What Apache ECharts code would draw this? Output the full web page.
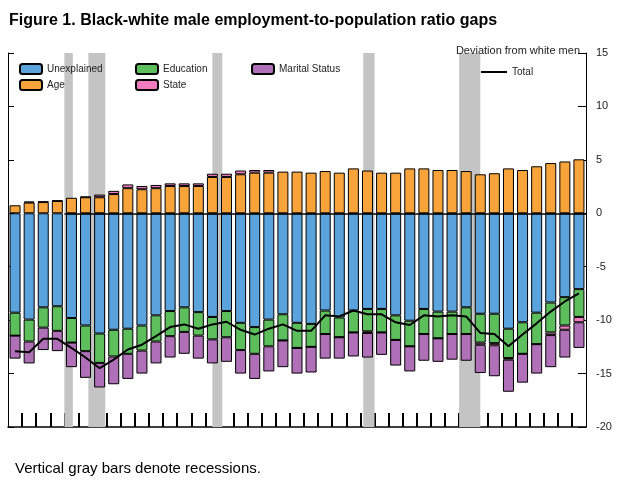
<!DOCTYPE html>
<html><head><meta charset="utf-8">
<script src="https://cdn.jsdelivr.net/npm/echarts@6/dist/echarts.min.js"></script>
<style>body{margin:0;background:#fff}#chart{width:619px;height:481px}</style>
</head><body><div id="chart"></div>
<script>
const years = [];
for (let y = 1976; y <= 2016; y++) years.push(y);
const unexplained = [-9.3,-9.95,-8.8,-8.7,-9.8,-10.5,-11.25,-10.9,-10.8,-10.5,-9.55,-9.15,-8.8,-9.25,-9.7,-9.15,-10.25,-10.65,-9.95,-9.45,-10.25,-10.35,-9.1,-9.75,-9.1,-8.95,-8.95,-9.55,-10.05,-8.95,-9.2,-9.2,-8.8,-9.4,-9.4,-10.8,-10.2,-9.3,-8.35,-7.85,-7.1];
const age = [0.75,1.0,1.05,1.15,1.45,1.5,1.5,1.8,2.35,2.25,2.35,2.55,2.55,2.55,3.4,3.4,3.65,3.8,3.8,3.9,3.9,3.8,3.95,3.8,4.2,4.0,3.8,3.8,4.2,4.2,4.05,4.05,3.95,3.65,3.75,4.2,4.05,4.4,4.7,4.85,5.05];
const education = [-2.15,-2.05,-1.9,-2.3,-2.3,-2.4,-2.75,-2.5,-2.35,-2.35,-2.45,-2.35,-2.3,-2.2,-2.1,-2.45,-2.55,-2.5,-2.5,-2.45,-2.35,-2.15,-2.2,-1.85,-2.05,-2.1,-2.2,-2.3,-2.4,-2.35,-2.5,-2.1,-2.5,-2.7,-2.75,-2.75,-2.95,-2.95,-2.8,-2.65,-2.6];
const state = [0,0.1,0.05,0.05,0,0.05,0.25,0.3,0.35,0.3,0.3,0.25,0.25,0.25,0.3,0.3,0.35,0.25,0.25,0,0,0,0,0,0,-0.15,0,0,0,0,0,0,0,-0.2,-0.2,-0.15,0,0,-0.25,-0.4,-0.5];
const marital = [-2.15,-2.05,-2.1,-1.9,-2.3,-2.5,-2.3,-2.6,-2.35,-2.15,-2.05,-2.0,-2.05,-2.15,-2.25,-2.3,-2.2,-2.35,-2.35,-2.5,-2.4,-2.4,-2.3,-2.0,-2.25,-2.3,-2.1,-2.4,-2.35,-2.5,-2.2,-2.4,-2.5,-2.65,-2.9,-3.0,-2.7,-2.75,-3.0,-2.6,-2.4];
const total = [-12.9,-13.0,-11.75,-11.75,-12.6,-13.5,-14.5,-13.7,-12.75,-12.3,-11.5,-10.65,-10.4,-10.8,-10.4,-10.15,-10.9,-11.35,-10.8,-10.4,-11.0,-11.0,-9.55,-9.65,-9.1,-9.45,-9.45,-10.2,-10.45,-9.55,-9.65,-9.55,-9.65,-11.2,-11.3,-12.45,-11.35,-10.3,-9.2,-8.25,-7.5];
const recessions = [[1979.5,1980.1],[1981.2,1982.4],[1990.0,1990.7],[2000.7,2001.5],[2007.5,2009.0]];

const chart = echarts.init(document.getElementById('chart'));
const bar = (name, data, color) => ({
  name, type: 'bar', stack: 'g', barWidth: 11, data, z: 3, xAxisIndex: 1,
  itemStyle: { color, borderColor: '#000', borderWidth: 1 }
});
const legBase = { orient: 'vertical', top: 58, itemWidth: 22, itemHeight: 10, itemGap: 4,
  textStyle: { fontSize: 10, color: '#222', fontFamily: 'Liberation Sans' } };

chart.setOption({
  animation: false,
  title: [
    { text: 'Figure 1. Black-white male employment-to-population ratio gaps', left: 4, top: 8,
      textStyle: { fontSize: 16, fontWeight: 'bold', fontFamily: 'Liberation Sans', color: '#000' } },
    { text: 'Deviation from white men', right: 34, top: 40,
      textStyle: { fontSize: 11, fontWeight: 'normal', fontFamily: 'Liberation Sans', color: '#222' } },
    { text: 'Vertical gray bars denote recessions.', left: 10, top: 456,
      textStyle: { fontSize: 15, fontWeight: 'normal', fontFamily: 'Liberation Sans', color: '#000' } }
  ],
  legend: [
    Object.assign({}, legBase, { left: 14, data: ['Unexplained', 'Age'] }),
    Object.assign({}, legBase, { left: 130, data: ['Education', 'State'] }),
    Object.assign({}, legBase, { left: 246, data: ['Marital Status'] }),
    Object.assign({}, legBase, { left: 476, top: 62, itemWidth: 26, itemHeight: 2, data: [{ name: 'Total', icon: 'rect' }] })
  ],
  grid: { left: 8, right: 33, top: 53, bottom: 54 },
  xAxis: [
    { type: 'value', min: 1975.5, max: 2016.5, interval: 1, splitLine: { show: false },
      axisLine: { onZero: false, lineStyle: { color: '#000', width: 1.5 } },
      axisTick: { inside: true, length: 14, lineStyle: { color: '#000', width: 2 } },
      axisLabel: { fontSize: 11, color: '#222', fontFamily: 'Liberation Sans', showMinLabel: false, showMaxLabel: false,
        formatter: v => (Math.abs((v + 1000) % 5) < 0.01 ? String(Math.round(v)) : '') } },
    { type: 'category', data: years, show: false, boundaryGap: true }
  ],
  yAxis: [
    { type: 'value', position: 'right', min: -20, max: 15, interval: 5, splitLine: { show: false },
      axisLine: { show: true, onZero: false, lineStyle: { color: '#000' } },
      axisTick: { inside: true, length: 8, lineStyle: { color: '#000' } },
      axisLabel: { fontSize: 11, color: '#222', margin: 10, fontFamily: 'Liberation Sans' } },
    { type: 'value', position: 'left', min: -20, max: 15, interval: 5, splitLine: { show: false },
      axisLine: { show: true, onZero: false, lineStyle: { color: '#000' } },
      axisTick: { inside: true, length: 6, lineStyle: { color: '#000' } },
      axisLabel: { show: false } }
  ],
  series: [
    { type: 'line', data: [], silent: true, z: 1,
      markArea: { silent: true, itemStyle: { color: '#c4c4c4' },
        data: recessions.map(r => [{ xAxis: r[0], yAxis: -20 }, { xAxis: r[1], yAxis: 15 }]) } },
    bar('Unexplained', unexplained, '#5ba3dc'),
    bar('Age', age, '#f9a43a'),
    bar('Education', education, '#5cbf5c'),
    bar('State', state, '#f07cbf'),
    bar('Marital Status', marital, '#b070b8'),
    { name: 'Total', type: 'line', data: total.map((v, i) => [years[i], v]), symbol: 'none', z: 5,
      itemStyle: { color: '#000' }, lineStyle: { color: '#000', width: 2 },
      markLine: { silent: true, symbol: 'none', label: { show: false },
        lineStyle: { color: '#000', width: 1.5, type: 'solid' },
        data: [[{ coord: [1979.5, 0] }, { coord: [2016.5, 0] }]] } }
  ]
});
</script></body></html>
